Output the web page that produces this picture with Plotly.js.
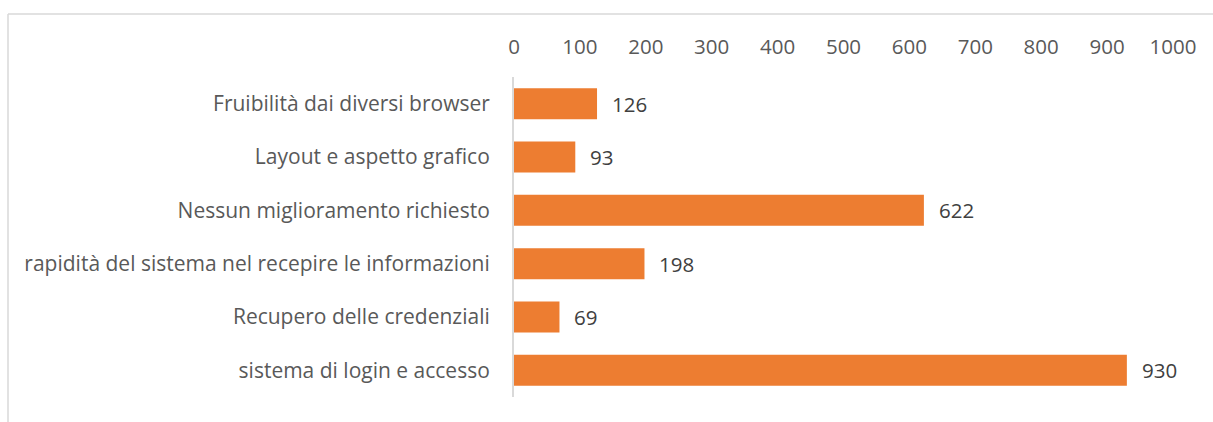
<!DOCTYPE html>
<html>
<head>
<meta charset="utf-8">
<script src="https://cdn.plot.ly/plotly-3.0.1.min.js"></script>
<style>
  html, body { margin: 0; padding: 0; background: #fff; }
  #chart { width: 1213px; height: 422px; }
</style>
</head>
<body>
<div id="chart"></div>
<script>
const categories = [
  "Fruibilità dai diversi browser",
  "Layout e aspetto grafico",
  "Nessun miglioramento richiesto",
  "rapidità del sistema nel recepire le informazioni",
  "Recupero delle credenziali",
  "sistema di login e accesso"
];
const values = [126, 93, 622, 198, 69, 930];
const xTicks = [0, 100, 200, 300, 400, 500, 600, 700, 800, 900, 1000];

const FONT = "Open Sans, sans-serif";

const trace = {
  type: "bar",
  orientation: "h",
  x: values,
  y: categories,
  marker: { color: "#ED7D31" },
  width: 0.58,
  hoverinfo: "none"
};

const annotations = values.map((v, i) => ({
  x: v, y: categories[i], xref: "x", yref: "y",
  text: String(v), showarrow: false,
  xanchor: "left", yanchor: "middle", xshift: 13,
  font: { family: FONT, size: 20.5, color: "#404040" }
}));

const layout = {
  width: 1213, height: 422,
  margin: { l: 514, r: 40, t: 77, b: 25, pad: 0 },
  paper_bgcolor: "#ffffff",
  plot_bgcolor: "#ffffff",
  showlegend: false,
  bargap: 0.42,
  xaxis: {
    side: "top",
    range: [0, 1000],
    tickvals: xTicks,
    ticktext: xTicks.map(String),
    showgrid: false,
    zeroline: false,
    showline: false,
    ticks: "",
    ticklabelstandoff: 18,
    tickfont: { family: FONT, size: 20.5, color: "#595959" },
    fixedrange: true
  },
  yaxis: {
    autorange: "reversed",
    showgrid: false,
    zeroline: false,
    showline: true,
    linecolor: "#D9D9D9",
    linewidth: 2,
    ticks: "",
    ticklabelstandoff: 18,
    tickfont: { family: FONT, size: 21, color: "#595959" },
    fixedrange: true
  },
  annotations: annotations,
  shapes: [
    { type: "line", xref: "paper", yref: "paper",
      x0: -506/659, x1: 699/659, y0: (422-25-14)/320, y1: (422-25-14)/320,
      line: { color: "#D9D9D9", width: 1.5 } },
    { type: "line", xref: "paper", yref: "paper",
      x0: -506/659, x1: -506/659, y0: (422-25-14)/320, y1: -30/320,
      line: { color: "#D9D9D9", width: 1.5 } }
  ]
};

Plotly.newPlot("chart", [trace], layout, { displayModeBar: false, staticPlot: true });
</script>
</body>
</html>
